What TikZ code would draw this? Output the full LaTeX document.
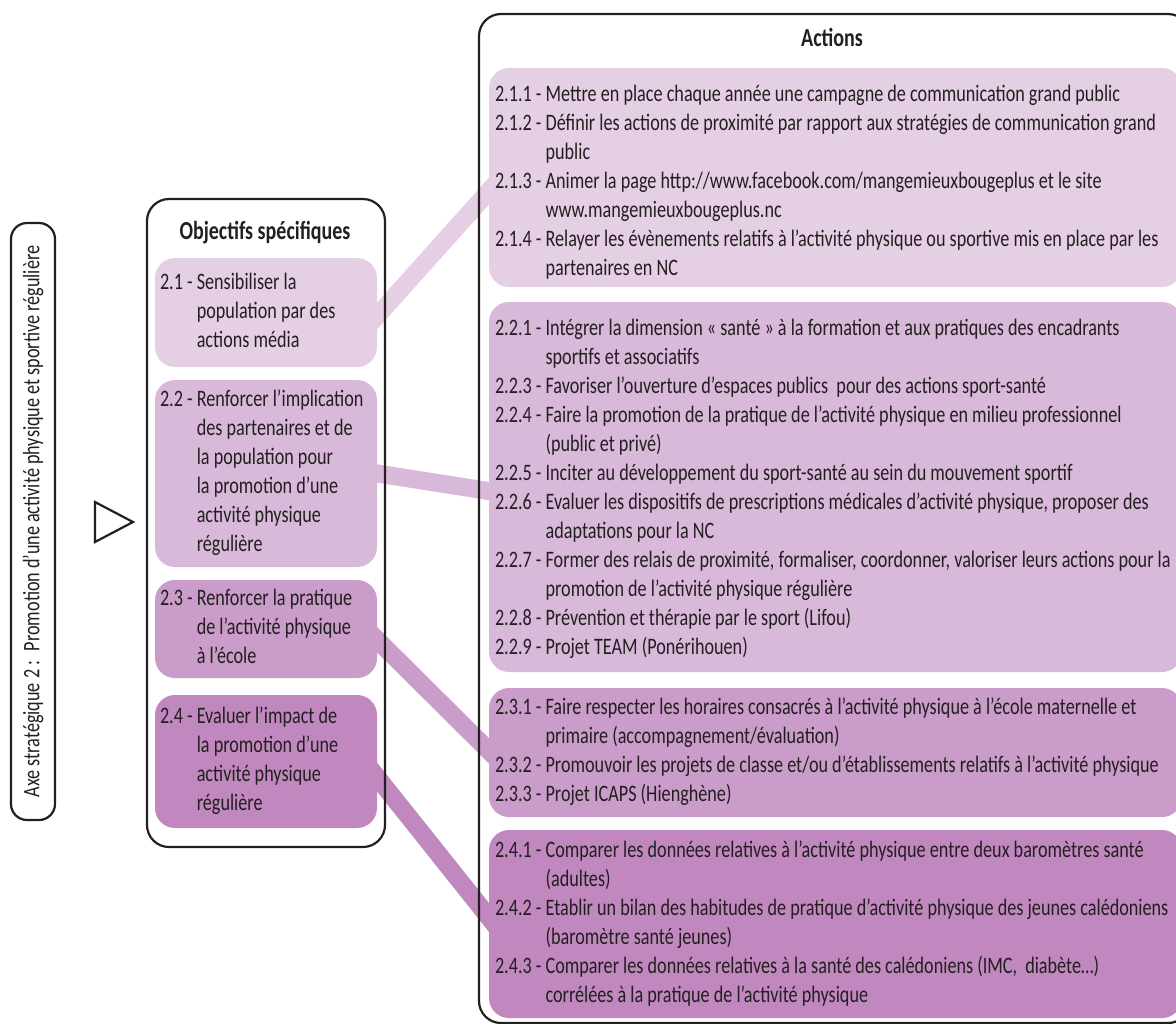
\documentclass[tikz,border=0pt]{standalone}
\usepackage{fontspec}
\setmainfont{Carlito}[FakeStretch=0.77]
\usetikzlibrary{positioning,fit,calc,backgrounds}

\definecolor{ink}{HTML}{231F20}
\definecolor{lilaA}{HTML}{E5CFE4}
\definecolor{lilaB}{HTML}{D9B9D9}
\definecolor{lilaC}{HTML}{CA9CC9}
\definecolor{lilaD}{HTML}{C088BE}
\newcommand{\txt}{\fontsize{11.8}{14.5}\selectfont}
\newcommand{\hd}{\fontsize{13}{15}\selectfont\bfseries}

\begin{document}
\begin{tikzpicture}[x=0.5pt,y=-0.5pt,
  frame/.style={draw=ink,line width=1.1pt,rounded corners=11pt,inner sep=0pt},
  pbox/.style={fill=#1,rounded corners=10pt,inner sep=0pt},
  band/.style={draw=#1,line width=9pt,shorten <=-6pt,shorten >=-6pt},
  lbl/.style={inner sep=0pt,text=ink,font=\txt},
  head/.style={inner sep=0pt,text=ink,font=\hd}]
\useasboundingbox (0,0) rectangle (1176,1023);

% axe
\node[frame,rounded corners=8pt,fit={(11,223) (55,820)}] (axe) {};
\node[lbl,rotate=90] (axet) at (axe.center) {Axe stratégique 2 :~ Promotion d’une activité physique et sportive régulière};
\draw[ink,line width=1.1pt] (95,502) -- (95,542) -- (133,522) -- cycle;

% objectifs
\node[frame,fit={(147,199) (385,847)}] (obj) {};
\node[head] (objt) at (265,233) {Objectifs spécifiques};
\node[pbox=lilaA,fit={(155,258) (377,367)}] (o1) {};
\node[pbox=lilaB,fit={(155,380) (377,567)}] (o2) {};
\node[pbox=lilaC,fit={(155,580) (377,678)}] (o3) {};
\node[pbox=lilaD,fit={(155,695) (377,828)}] (o4) {};
\node[lbl,right=2.5pt of o1.west] (o1t) {\begin{tabular}{@{}l@{\ }l@{}}
2.1 - & Sensibiliser la\\ & population par des\\ & actions média\end{tabular}};
\node[lbl,right=2.5pt of o2.west] (o2t) {\begin{tabular}{@{}l@{\ }l@{}}
2.2 - & Renforcer l’implication\\ & des partenaires et de\\ & la population pour\\
 & la promotion d’une\\ & activité physique\\ & régulière\end{tabular}};
\node[lbl,right=2.5pt of o3.west] (o3t) {\begin{tabular}{@{}l@{\ }l@{}}
2.3 - & Renforcer la pratique\\ & de l’activité physique\\ & à l’école\end{tabular}};
\node[lbl,right=2.5pt of o4.west] (o4t) {\begin{tabular}{@{}l@{\ }l@{}}
2.4 - & Evaluer l’impact de\\ & la promotion d’une\\ & activité physique\\ & régulière\end{tabular}};

% actions
\node[frame,fit={(479,14) (1190,1023)}] (act) {};
\node[head] (actt) at (832,37) {Actions};
\node[pbox=lilaA,fit={(489,68) (1182,287)}] (a1) {};
\node[pbox=lilaB,fit={(489,302) (1182,672)}] (a2) {};
\node[pbox=lilaC,fit={(489,688) (1182,817)}] (a3) {};
\node[pbox=lilaD,fit={(489,830) (1182,1018)}] (a4) {};
\node[lbl,right=3pt of a1.west,yshift=-2.5pt] (a1t) {\begin{tabular}{@{}l@{\ }l@{}}
2.1.1 - & Mettre en place chaque année une campagne de communication grand public\\
2.1.2 - & Définir les actions de proximité par rapport aux stratégies de communication grand\\
 & public\\
2.1.3 - & Animer la page http://www.facebook.com/mangemieuxbougeplus et le site\\
 & www.mangemieuxbougeplus.nc\\
2.1.4 - & Relayer les évènements relatifs à l’activité physique ou sportive mis en place par les\\
 & partenaires en NC\end{tabular}};
\node[lbl,right=3pt of a2.west,yshift=-1pt] (a2t) {\begin{tabular}{@{}l@{\ }l@{}}
2.2.1 - & Intégrer la dimension «~santé~» à la formation et aux pratiques des encadrants\\
 & sportifs et associatifs\\
2.2.3 - & Favoriser l’ouverture d’espaces publics~ pour des actions sport-santé\\
2.2.4 - & Faire la promotion de la pratique de l’activité physique en milieu professionnel\\
 & (public et privé)\\
2.2.5 - & Inciter au développement du sport-santé au sein du mouvement sportif\\
2.2.6 - & Evaluer les dispositifs de prescriptions médicales d’activité physique, proposer des\\
 & adaptations pour la NC\\
2.2.7 - & Former des relais de proximité, formaliser, coordonner, valoriser leurs actions pour la\\
 & promotion de l’activité physique régulière\\
2.2.8 - & Prévention et thérapie par le sport (Lifou)\\
2.2.9 - & Projet TEAM (Ponérihouen)\end{tabular}};
\node[lbl,right=3pt of a3.west] (a3t) {\begin{tabular}{@{}l@{\ }l@{}}
2.3.1 - & Faire respecter les horaires consacrés à l’activité physique à l’école maternelle et\\
 & primaire (accompagnement/évaluation)\\
2.3.2 - & Promouvoir les projets de classe et/ou d’établissements relatifs à l’activité physique\\
2.3.3 - & Projet ICAPS (Hienghène)\end{tabular}};
\node[lbl,right=3pt of a4.west] (a4t) {\begin{tabular}{@{}l@{\ }l@{}}
2.4.1 - & Comparer les données relatives à l’activité physique entre deux baromètres santé\\
 & (adultes)\\
2.4.2 - & Etablir un bilan des habitudes de pratique d’activité physique des jeunes calédoniens\\
 & (baromètre santé jeunes)\\
2.4.3 - & Comparer les données relatives à la santé des calédoniens (IMC,~ diabète…)\\
 & corrélées à la pratique de l’activité physique\end{tabular}};

% liens
\begin{scope}[on background layer]
\draw[band=lilaA] ($(o1.east)+(0,3)$) -- ($(a1.west)+(0,14)$);
\draw[band=lilaB] (o2.east) -- ($(a2.west)+(0,4)$);
\draw[band=lilaC] ($(o3.east)+(0,11)$) -- ($(a3.west)+(0,-2)$);
\draw[band=lilaD] ($(o4.east)+(0,16)$) -- ($(a4.west)+(0,-7)$);
\end{scope}
\end{tikzpicture}
\end{document}
